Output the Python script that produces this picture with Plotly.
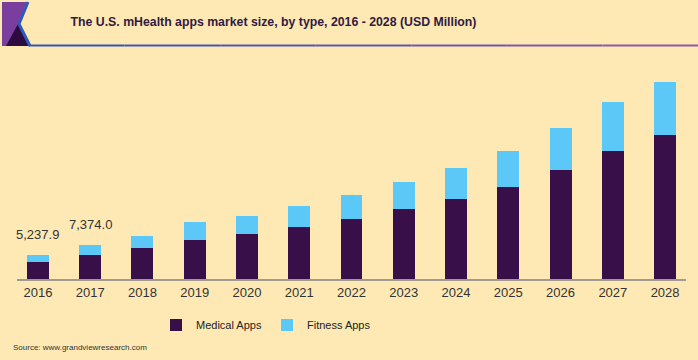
import plotly.graph_objects as go

years = ["2016", "2017", "2018", "2019", "2020", "2021", "2022",
         "2023", "2024", "2025", "2026", "2027", "2028"]
medical_apps = [3700.0, 5220.0, 6740.0, 8480.0, 9790.0, 11310.0, 13050.0,
                15220.0, 17400.0, 20010.0, 23710.0, 27840.0, 31320.0]
fitness_apps = [1537.9, 2154.0, 2610.0, 3920.0, 3910.0, 4570.0, 5220.0,
                5880.0, 6740.0, 7830.0, 9130.0, 10660.0, 11530.0]
labeled_years = ["2016", "2017"]

W, H = 698, 360
ML, MR, MT, MB = 17, 12, 60, 81
PW, PH = W - ML - MR, H - MT - MB

def px(x):
    return (x - ML) / PW

def py(y):
    return (H - MB - y) / PH

BG = "#FEE9B4"
MED = "#390F4A"
FIT = "#5CC8F7"
FONT = "Arial, Liberation Sans, sans-serif"

fig = go.Figure()
fig.add_trace(go.Bar(x=years, y=medical_apps, name="Medical Apps",
                     marker=dict(color=MED, line=dict(width=0)), width=0.42))
fig.add_trace(go.Bar(x=years, y=fitness_apps, name="Fitness Apps",
                     marker=dict(color=FIT, line=dict(width=0)), width=0.42))

annotations = []
for i, (yr, m, f) in enumerate(zip(years, medical_apps, fitness_apps)):
    if yr in labeled_years:
        annotations.append(dict(
            x=i, y=m + f, xref="x", yref="y", text=f"{m + f:,.1f}",
            showarrow=False, xanchor="center", yanchor="bottom", yshift=11,
            font=dict(family=FONT, size=13, color="#333333")))

annotations.append(dict(
    x=px(11), y=py(347), xref="paper", yref="paper", xanchor="left",
    yanchor="middle", text="Source: www.grandviewresearch.com", showarrow=False,
    font=dict(family=FONT, size=8, color="#333333")))

shapes = [
    dict(type="path", xref="paper", yref="paper",
         path=f"M{px(2)},{py(2)} L{px(27)},{py(2)} L{px(18)},{py(24)} "
              f"L{px(29)},{py(46)} L{px(2)},{py(46)} Z",
         fillcolor="#7A3E9E", line=dict(width=0), layer="below"),
    dict(type="path", xref="paper", yref="paper",
         path=f"M{px(6)},{py(46)} L{px(18)},{py(24)} L{px(29)},{py(46)} Z",
         fillcolor="#2C0C3F", line=dict(width=0), layer="below"),
    dict(type="path", xref="paper", yref="paper",
         path=f"M{px(28)},{py(2)} L{px(19)},{py(24)} L{px(30)},{py(46)}",
         line=dict(color="#2F5BB8", width=3), layer="below"),
]
# underline of the title band, blue fading to purple
seg_colors = ["#3558B6", "#4258B4", "#5058B0", "#6058AD", "#7058AA", "#8058A8", "#9058A6"]
x0, x1 = 29, 698
n = len(seg_colors)
for i, c in enumerate(seg_colors):
    a = x0 + (x1 - x0) * i / n
    b = x0 + (x1 - x0) * (i + 1) / n
    shapes.append(dict(type="line", xref="paper", yref="paper",
                       x0=px(a), x1=px(b), y0=py(45.5), y1=py(45.5),
                       line=dict(color=c, width=2)))

fig.update_layout(
    width=W, height=H,
    margin=dict(l=ML, r=MR, t=MT, b=MB, pad=0, autoexpand=False),
    paper_bgcolor=BG, plot_bgcolor=BG,
    barmode="stack",
    title=dict(text="<b>The U.S. mHealth apps market size, by type, 2016 - 2028 (USD Million)</b>",
               x=273.5 / W, xref="container", xanchor="center",
               y=1 - 22 / H, yref="container", yanchor="middle",
               font=dict(family=FONT, size=12.3, color="#301A42")),
    xaxis=dict(type="category", range=[-0.4, 12.4], showline=True,
               linecolor="#A09A90", linewidth=2, ticks="", showgrid=False,
               tickfont=dict(family=FONT, size=13, color="#333333"),
               fixedrange=True),
    yaxis=dict(range=[0, 47630], visible=False, showgrid=False, fixedrange=True),
    showlegend=True,
    legend=dict(orientation="h", x=px(156), xanchor="left", y=py(325), yanchor="middle",
                bgcolor="rgba(0,0,0,0)", traceorder="normal", entrywidth=66,
                font=dict(family=FONT, size=11, color="#222222")),
    annotations=annotations,
    shapes=shapes,
    bargap=0.58,
)

fig.write_html("out.html", config={"displayModeBar": False},
               post_script="document.body.style.margin='0';document.body.style.overflow='hidden';")
